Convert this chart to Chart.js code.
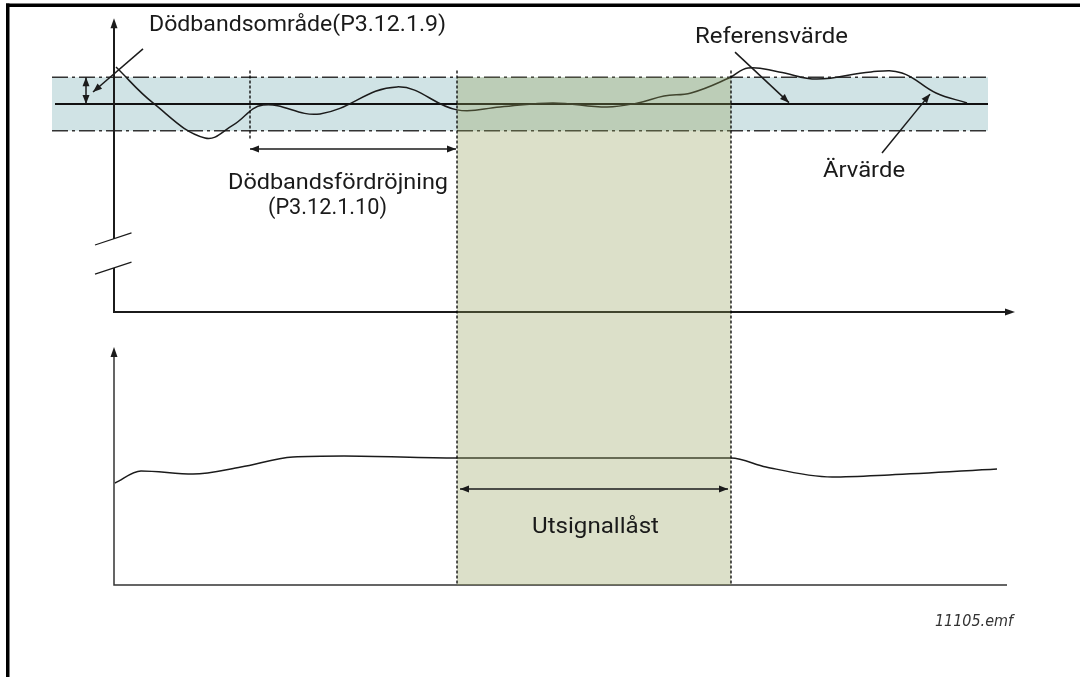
<!DOCTYPE html>
<html>
<head>
<meta charset="utf-8">
<script src="https://cdn.jsdelivr.net/npm/chart.js@4/dist/chart.umd.min.js"></script>
<style>
  html, body { margin: 0; padding: 0; background: #fff; }
  #wrap { position: absolute; left: 0; top: 0; width: 1080px; height: 677px; }
</style>
</head>
<body>
<div id="wrap"><canvas id="chart" width="1080" height="677"></canvas></div>
<script>
// process value (top) : deviation from reference, 1 = dead band limit
const pvTime  = [0.2, 3.9, 9.1, 11.9, 14.9, 20.6, 28.3, 34.3, 38.6, 43.9, 49.3, 52.4, 55.0, 57.7, 61.5, 63.4, 66.5, 70.3, 75.7, 78.8, 82.2, 85.3];
const pvValue = [1.38, 0.04, -1.27, -0.79, -0.04, -0.37, 0.64, -0.22, -0.11, 0.04, -0.11, 0.04, 0.30, 0.41, 0.97, 1.35, 1.20, 0.93, 1.20, 1.16, 0.41, 0.04];

// controller output (bottom)
const outTime  = [0.1, 2.7, 7.9, 12.7, 17.9, 23.0, 34.3, 61.7, 65.2, 71.8, 77.5, 88.3];
const outValue = [40.8, 45.6, 44.4, 47.2, 51.2, 51.6, 50.8, 50.8, 47.2, 43.2, 44.0, 46.4];

const deadband = 1;
const bandSpan = [-6.2, 87.4];
const refSpan = [-5.9, 87.4];
const delayStart = 13.6;     // ärvärde enters the band
const lockSpan = [34.3, 61.7]; // output locked

// layout of the drawing (pixels)
const X0 = 114, PX_T = 10;          // time axis origin, px per time unit
const PV0 = 104, PX_PV = 26.75;     // reference line, px per band unit
const OUT0 = 585, PX_OUT = 2.5;     // lower axis, px per output unit
const W = 1080, H = 677;

const pvAxisLevel = (PV0 - 312) / PX_PV;
const pvFloor = (PV0 - OUT0) / PX_PV;

const ctx = document.getElementById('chart').getContext('2d');

function line(data, axis, opts) {
  return Object.assign({
    data: data, yAxisID: axis, pointRadius: 0, borderColor: '#1b1b1b',
    borderWidth: 1.5, fill: false, tension: 0
  }, opts);
}

function head(c, x1, y1, x2, y2, len, half) {
  const a = Math.atan2(y2 - y1, x2 - x1);
  const bx = x2 - len * Math.cos(a), by = y2 - len * Math.sin(a);
  c.beginPath();
  c.moveTo(x2, y2);
  c.lineTo(bx + half * Math.sin(a), by - half * Math.cos(a));
  c.lineTo(bx - half * Math.sin(a), by + half * Math.cos(a));
  c.closePath();
  c.fill();
}

function arrow(c, x1, y1, x2, y2, both) {
  c.beginPath();
  c.moveTo(x1, y1);
  c.lineTo(x2, y2);
  c.stroke();
  head(c, x1, y1, x2, y2, 9, 3.5);
  if (both) head(c, x2, y2, x1, y1, 9, 3.5);
}

function label(c, text, x, y, font, width) {
  c.font = font;
  const w = c.measureText(text).width;
  c.save();
  c.translate(x, y);
  c.scale(width / w, 1);
  c.fillText(text, 0, 0);
  c.restore();
}

const decor = {
  id: 'decor',
  beforeDraw(chart) {
    const c = chart.ctx;
    c.save();
    c.fillStyle = '#000';
    c.fillRect(6, 3.5, W - 6, 3.5);
    c.fillRect(6, 3.5, 3.5, H);
    c.restore();
  },
  afterDatasetsDraw(chart) {
    const c = chart.ctx;
    const X = v => chart.scales.x.getPixelForValue(v);
    const P = v => chart.scales.pv.getPixelForValue(v);
    const O = v => chart.scales.out.getPixelForValue(v);
    c.save();
    c.fillStyle = '#1b1b1b';
    c.strokeStyle = '#1b1b1b';

    // axis arrow heads
    head(c, X(0), P(0), X(0), P(3.21), 10, 3.5);
    head(c, X(0), P(pvAxisLevel), X(90.1), P(pvAxisLevel), 10, 3.5);
    head(c, X(0), O(0), X(0), O(95.2), 10, 3.5);

    // axis break
    c.lineWidth = 1.2;
    c.beginPath();
    c.moveTo(X(-1.9), P(-5.27)); c.lineTo(X(1.75), P(-4.82));
    c.moveTo(X(-1.9), P(-6.36)); c.lineTo(X(1.75), P(-5.91));
    c.stroke();

    // dotted time markers
    c.strokeStyle = '#000';
    c.lineWidth = 1.3;
    c.setLineDash([3, 2]);
    c.beginPath();
    c.moveTo(X(delayStart), P(1.25)); c.lineTo(X(delayStart), P(-1.3));
    lockSpan.forEach(t => { c.moveTo(X(t), P(1.25)); c.lineTo(X(t), P(pvFloor)); });
    c.stroke();
    c.setLineDash([]);
    c.strokeStyle = '#1b1b1b';

    // annotation arrows
    c.lineWidth = 1.5;
    arrow(c, X(2.9), P(2.06), X(-2.1), P(0.45), false);
    arrow(c, X(-2.8), P(0), X(-2.8), P(deadband), true);
    arrow(c, X(34.2), P(-1.68), X(13.6), P(-1.68), true);
    arrow(c, X(62.1), P(1.94), X(67.5), P(0.05), false);
    arrow(c, X(76.8), P(-1.83), X(81.6), P(0.37), false);
    arrow(c, X(61.4), O(38.4), X(34.6), O(38.4), true);

    // texts
    c.fillStyle = '#1a1a1a';
    c.textBaseline = 'alphabetic';
    const f = '22px Roboto';
    label(c, 'Dödbandsområde(P3.12.1.9)', 149, 31, f, 297);
    label(c, 'Referensvärde', 695, 43, f, 153);
    label(c, 'Ärvärde', 823, 177, f, 82);
    label(c, 'Dödbandsfördröjning', 228, 189, f, 220);
    label(c, '(P3.12.1.10)', 268, 214, f, 119);
    label(c, 'Utsignallåst', 532, 533, f, 127);
    c.fillStyle = '#333';
    label(c, '11105.emf', 935, 626, 'italic 15px "DejaVu Sans"', 78);
    c.restore();
  }
};

const pts = (xs, ys) => xs.map((x, i) => ({ x: x, y: ys[i] }));
const flat = (span, y) => span.map(x => ({ x: x, y: y }));

new Chart(ctx, {
  type: 'line',
  data: {
    datasets: [
      // dead band area
      line(flat(bandSpan, deadband), 'pv', { borderWidth: 0, fill: { value: -deadband }, backgroundColor: '#d0e3e5', order: 9 }),
      line(flat(bandSpan, deadband), 'pv', { borderWidth: 1.5, borderColor: '#333', borderDash: [16, 4, 3, 4], order: 8 }),
      line(flat(bandSpan, -deadband), 'pv', { borderWidth: 1.5, borderColor: '#333', borderDash: [16, 4, 3, 4], order: 8 }),
      // reference value
      line(flat(refSpan, 0), 'pv', { borderWidth: 2.2, borderColor: '#111', order: 7 }),
      // axes
      line([{ x: 0, y: 2.84 }, { x: 0, y: -5.05 }, { x: 0, y: null }, { x: 0, y: -6.13 }, { x: 0, y: pvAxisLevel }, { x: 89.1, y: pvAxisLevel }], 'pv', { borderWidth: 2, borderColor: '#1b1b1b', order: 6 }),
      line([{ x: 0, y: 91.2 }, { x: 0, y: 0 }, { x: 89.3, y: 0 }], 'out', { borderWidth: 1.5, borderColor: '#333', order: 6 }),
      // ärvärde and output
      line(pts(pvTime, pvValue), 'pv', { tension: 0.4, order: 5 }),
      line(pts(outTime, outValue), 'out', { cubicInterpolationMode: 'monotone', order: 5 }),
      // output locked region
      line(flat(lockSpan, deadband), 'pv', { borderWidth: 0, fill: { value: pvFloor }, backgroundColor: 'rgba(146,158,86,0.32)', order: -1 })
    ]
  },
  options: {
    responsive: false,
    animation: false,
    events: [],
    layout: { padding: 0 },
    plugins: { legend: { display: false }, tooltip: { enabled: false } },
    scales: {
      x: { type: 'linear', display: false, min: -X0 / PX_T, max: (W - X0) / PX_T },
      pv: { type: 'linear', display: false, min: (PV0 - H) / PX_PV, max: PV0 / PX_PV },
      out: { type: 'linear', display: false, min: (OUT0 - H) / PX_OUT, max: OUT0 / PX_OUT }
    }
  },
  plugins: [decor]
});
</script>
</body>
</html>
